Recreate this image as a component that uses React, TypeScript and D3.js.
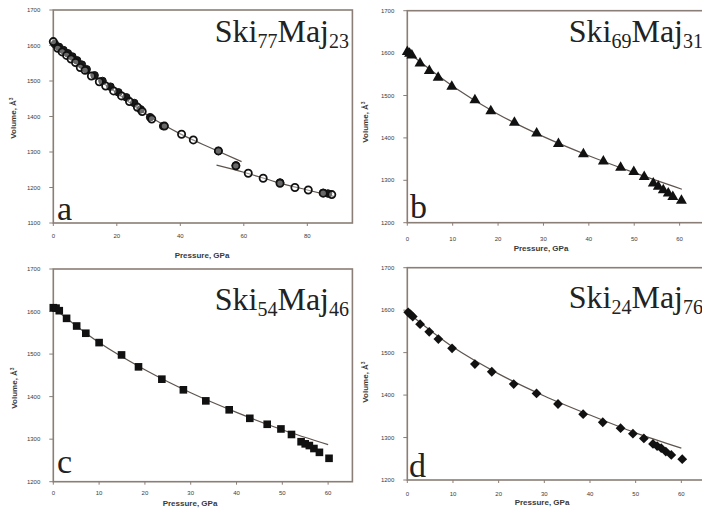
import React from "react";
import * as d3 from "d3";

// ---------- data (Pressure GPa, Volume Å^3) ----------
const aOpen: [number, number][] = [
  [0, 1611], [1.4, 1592], [2.8, 1582], [4.2, 1572], [5.6, 1562], [7, 1552], [8.5, 1538],
  [10, 1530], [12, 1514], [14.5, 1498], [16.5, 1486], [19, 1472], [21.5, 1458], [24, 1442],
  [26.5, 1426], [28, 1414], [31, 1393], [35, 1373], [40.4, 1350], [44.1, 1334], [52, 1303],
  [57.5, 1261], [61.4, 1240], [66.1, 1226], [71.4, 1212], [76.1, 1200], [80.3, 1193],
  [85, 1184], [87.7, 1180],
];
const aFilled: [number, number][] = [
  [0.5, 1604], [1.8, 1596], [3.2, 1587], [4.6, 1578], [6, 1569], [7.5, 1558], [9, 1546],
  [10.5, 1533], [13, 1516], [15.5, 1500], [18, 1484], [20.5, 1468], [23, 1454], [25.5, 1438],
  [27.5, 1420], [30.5, 1398], [34.6, 1373], [52, 1303], [57.5, 1262], [71.4, 1214],
  [85, 1185], [86.5, 1183],
];
const aFit1: [number, number][] = [
  [0, 1608], [10, 1532], [20, 1466], [30, 1402], [40, 1351], [50, 1310], [59.3, 1273],
];
const aFit2: [number, number][] = [
  [51.4, 1263], [60, 1243], [70, 1216], [80, 1193], [88.7, 1174],
];

const bPts: [number, number][] = [
  [0, 1603], [0.5, 1599], [1, 1595], [2.8, 1576], [4.85, 1558], [6.8, 1542], [9.8, 1521],
  [14.9, 1489], [18.4, 1463], [23.6, 1436], [28.5, 1411], [33.3, 1386], [38.8, 1362],
  [43.2, 1345], [47.0, 1330], [49.9, 1320], [52.2, 1308], [54.2, 1293], [55.3, 1285],
  [56.4, 1277], [57.5, 1269], [58.5, 1261], [60.4, 1252],
];
const bFit: [number, number][] = [
  [0, 1603], [10, 1522], [20, 1456], [30, 1403], [40, 1358], [50, 1318], [60.5, 1279],
];

const cPts: [number, number][] = [
  [0, 1609], [0.6, 1608], [1.3, 1602], [2.9, 1584], [5.1, 1566], [7.1, 1549], [10.0, 1527],
  [14.9, 1498], [18.6, 1470], [23.7, 1441], [28.4, 1416], [33.3, 1390], [38.4, 1369],
  [42.9, 1349], [46.7, 1335], [49.7, 1324], [52.0, 1311], [54.1, 1294], [55.0, 1289],
  [55.9, 1285], [56.9, 1278], [58.1, 1269], [60.2, 1255],
];
const cFit: [number, number][] = [
  [0, 1609], [10, 1527], [20, 1463], [30, 1409], [40, 1363], [50, 1322], [60, 1287],
];

const dPts: [number, number][] = [
  [0.2, 1595], [0.7, 1590], [1.2, 1585], [2.8, 1567], [4.8, 1549], [6.8, 1532], [9.8, 1510],
  [14.8, 1473], [18.5, 1455], [23.3, 1426], [28.3, 1404], [33.0, 1379], [38.5, 1355],
  [42.8, 1336], [46.7, 1322], [49.4, 1309], [51.8, 1298], [53.8, 1285], [54.7, 1280],
  [55.6, 1275], [56.6, 1267], [57.8, 1259], [60.2, 1249],
];
const dFit: [number, number][] = [
  [0, 1595], [10, 1513], [20, 1450], [30, 1398], [40, 1353], [50, 1311], [60, 1275],
];

const xTicksA = [0, 20, 40, 60, 80];
const xTicksB = [0, 10, 20, 30, 40, 50, 60];
const yTicksA = [1100, 1200, 1300, 1400, 1500, 1600, 1700];
const yTicksB = [1200, 1300, 1400, 1500, 1600, 1700];

// ---------- layout ----------
const FRAME = "#8a7e76";
const LINE = "#5e544e";
const TXT = "#3a3a3a";

type Panel = {
  left: number; right: number; top: number; bottom: number;
  xMax: number; yMin: number; xTicks: number[]; yTicks: number[];
  ski: string; maj: string; letter: string;
  titleRight: number; titleBase: number;
  letterX: number; letterBase: number;
  xLabelX: number; xLabelBase: number; yLabelX: number; yLabelY: number;
  tickBase: number;
};

const panels: Panel[] = [
  { left: 53.3, right: 352.4, top: 10, bottom: 223, xMax: 94.2, yMin: 1100, xTicks: xTicksA, yTicks: yTicksA,
    ski: "77", maj: "23", letter: "a", titleRight: 349, titleBase: 42, letterX: 57, letterBase: 220,
    xLabelX: 202, xLabelBase: 258, yLabelX: 16, yLabelY: 118, tickBase: 237.5 },
  { left: 407.3, right: 725, top: 10.7, bottom: 222.7, xMax: 70, yMin: 1200, xTicks: xTicksB, yTicks: yTicksB,
    ski: "69", maj: "31", letter: "b", titleRight: 703, titleBase: 42, letterX: 410, letterBase: 218,
    xLabelX: 541, xLabelBase: 251, yLabelX: 368, yLabelY: 122, tickBase: 240.5 },
  { left: 53.3, right: 352.4, top: 269, bottom: 481.7, xMax: 65.3, yMin: 1200, xTicks: xTicksB, yTicks: yTicksB,
    ski: "54", maj: "46", letter: "c", titleRight: 349, titleBase: 310, letterX: 57, letterBase: 473,
    xLabelX: 190, xLabelBase: 506, yLabelX: 17, yLabelY: 388, tickBase: 494.5 },
  { left: 407.3, right: 727, top: 267.7, bottom: 480, xMax: 70, yMin: 1200, xTicks: xTicksB, yTicks: yTicksB,
    ski: "24", maj: "76", letter: "d", titleRight: 703, titleBase: 308, letterX: 409, letterBase: 476.5,
    xLabelX: 542, xLabelBase: 505, yLabelX: 368, yLabelY: 382, tickBase: 495.5 },
];

function Axes({ p, x, y }: { p: Panel; x: d3.ScaleLinear<number, number>; y: d3.ScaleLinear<number, number> }) {
  return (
    <g>
      <rect x={p.left} y={p.top} width={p.right - p.left} height={p.bottom - p.top}
        fill="#fff" stroke={FRAME} strokeWidth={1.6} />
      {p.yTicks.map((t) => (
        <g key={"y" + t}>
          <line x1={p.left - 4} x2={p.left} y1={y(t)} y2={y(t)} stroke={FRAME} strokeWidth={1} />
          <text x={p.left - 13} y={y(t) + 2} fontSize={6} textAnchor="end" fill={TXT}
            fontFamily="Liberation Sans, Arial, sans-serif">{t}</text>
        </g>
      ))}
      {p.xTicks.map((t) => (
        <g key={"x" + t}>
          <line x1={x(t)} x2={x(t)} y1={p.bottom} y2={p.bottom + 3} stroke={FRAME} strokeWidth={1} />
          <text x={x(t)} y={p.tickBase} fontSize={6} textAnchor="middle" fill={TXT}
            fontFamily="Liberation Sans, Arial, sans-serif">{t}</text>
        </g>
      ))}
      <text x={p.xLabelX} y={p.xLabelBase} fontSize={8} fontWeight="bold" textAnchor="middle" fill={TXT}
        fontFamily="Liberation Sans, Arial, sans-serif">Pressure, GPa</text>
      <text transform={`translate(${p.yLabelX},${p.yLabelY}) rotate(-90)`} fontSize={8} fontWeight="bold"
        textAnchor="middle" fill={TXT} fontFamily="Liberation Sans, Arial, sans-serif">
        Volume, Å<tspan fontSize={5} dy={-3}>3</tspan>
      </text>
      <text x={p.titleRight} y={p.titleBase} textAnchor="end" fontSize={32} fill="#222"
        fontFamily="Liberation Serif, Times New Roman, serif">
        Ski<tspan fontSize={20} dy={6}>{p.ski}</tspan>
        <tspan dy={-6}>Maj</tspan><tspan fontSize={20} dy={6}>{p.maj}</tspan>
      </text>
      <text x={p.letterX} y={p.letterBase} fontSize={34} fill="#222"
        fontFamily="Liberation Serif, Times New Roman, serif">{p.letter}</text>
    </g>
  );
}

function makeScales(p: Panel) {
  const x = d3.scaleLinear().domain([0, p.xMax]).range([p.left, p.right]);
  const y = d3.scaleLinear().domain([p.yMin, 1700]).range([p.bottom, p.top]);
  return { x, y };
}

function fitPath(pts: [number, number][], x: any, y: any) {
  return d3.line<[number, number]>().x((d) => x(d[0])).y((d) => y(d[1])).curve(d3.curveMonotoneX)(pts) || "";
}

export default function App() {
  const [pa, pb, pc, pd] = panels;
  const A = makeScales(pa), B = makeScales(pb), C = makeScales(pc), D = makeScales(pd);
  const tri = d3.symbol().type(d3.symbolTriangle).size(52)() || "";
  const sq = d3.symbol().type(d3.symbolSquare).size(58)() || "";
  const dia = d3.symbol().type(d3.symbolSquare).size(48)() || "";
  return (
    <svg width={702} height={516} style={{ position: "absolute", left: 0, top: 0, background: "#fff" }}>
      <rect x={0} y={0} width={702} height={516} fill="#fff" />
      {/* panel a */}
      <Axes p={pa} x={A.x} y={A.y} />
      <path d={fitPath(aFit1, A.x, A.y)} fill="none" stroke={LINE} strokeWidth={1.2} />
      <path d={fitPath(aFit2, A.x, A.y)} fill="none" stroke={LINE} strokeWidth={1.2} />
      {aFilled.map((d, i) => (
        <circle key={"af" + i} cx={A.x(d[0])} cy={A.y(d[1])} r={3.8} fill="#1a1a1a" stroke="#111" strokeWidth={1} />
      ))}
      {aOpen.map((d, i) => (
        <circle key={"ao" + i} cx={A.x(d[0])} cy={A.y(d[1])} r={3.6} fill="rgba(255,255,255,0.35)" stroke="#111" strokeWidth={1.8} />
      ))}
      {/* panel b */}
      <Axes p={pb} x={B.x} y={B.y} />
      <path d={fitPath(bFit, B.x, B.y)} fill="none" stroke={LINE} strokeWidth={1.2} />
      {bPts.map((d, i) => (
        <path key={"b" + i} d={tri} transform={`translate(${B.x(d[0])},${B.y(d[1])})`} fill="#111" />
      ))}
      {/* panel c */}
      <Axes p={pc} x={C.x} y={C.y} />
      <path d={fitPath(cFit, C.x, C.y)} fill="none" stroke={LINE} strokeWidth={1.2} />
      {cPts.map((d, i) => (
        <path key={"c" + i} d={sq} transform={`translate(${C.x(d[0])},${C.y(d[1])})`} fill="#111" />
      ))}
      {/* panel d */}
      <Axes p={pd} x={D.x} y={D.y} />
      <path d={fitPath(dFit, D.x, D.y)} fill="none" stroke={LINE} strokeWidth={1.2} />
      {dPts.map((d, i) => (
        <path key={"d" + i} d={dia} transform={`translate(${D.x(d[0])},${D.y(d[1])}) rotate(45)`} fill="#111" />
      ))}
    </svg>
  );
}
